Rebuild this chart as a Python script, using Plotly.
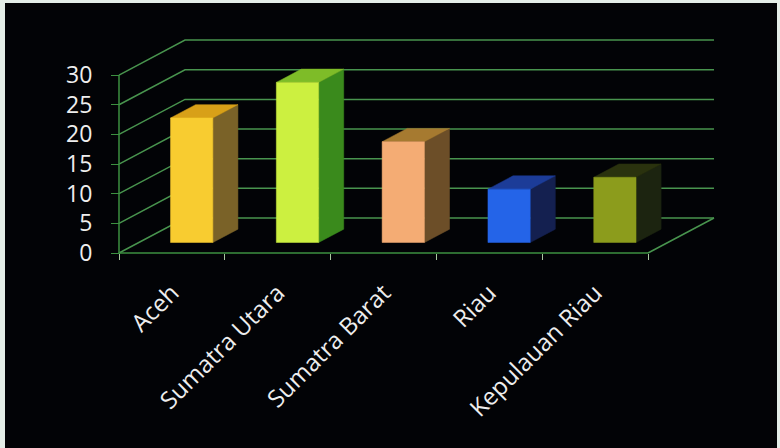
import plotly.graph_objects as go

# ---- data ----
categories = ["Aceh", "Sumatra Utara", "Sumatra Barat", "Riau", "Kepulauan Riau"]
values = [21, 27, 17, 9, 11]
y_ticks = [0, 5, 10, 15, 20, 25, 30]
front_colors = ["#F8CC30", "#CCF040", "#F4AC74", "#2464E8", "#8C9C1C"]
top_colors = ["#D8A018", "#7EBC28", "#A67A30", "#1C3C98", "#2A320E"]
side_colors = ["#7A6228", "#3A8A1C", "#6C4E28", "#142050", "#1C2410"]

# ---- geometry of the oblique projection (in axis units) ----
W, H = 780, 448
px_per_cat = 105.8
px_per_val = 5.93
x0_px, y0_px = 119, 253          # front-left-bottom corner of the floor
DX = 66 / px_per_cat             # full depth, horizontal shift (category units)
DY = 35 / px_per_val             # full depth, vertical shift (value units)
D0, D1 = 0.30, 0.68              # bar depth (front/back fraction)
HALF = 0.20                      # half bar width
YMAX = 30
n = len(categories)

xr = [-0.5 - x0_px / px_per_cat, -0.5 + (W - x0_px) / px_per_cat]
yr = [-(H - y0_px) / px_per_val, y0_px / px_per_val]

GRID = "#48944e"
AXIS = "#3c9040"

fig = go.Figure()

def P(u, w, d):
    return u + DX * d, w + DY * d

# back wall gridlines + side-wall diagonals
gx, gy = [], []
for v in y_ticks:
    a = P(-0.5, v, 0); b = P(-0.5, v, 1); c = P(n - 0.5, v, 1)
    gx += [a[0], b[0], c[0], None]; gy += [a[1], b[1], c[1], None]
# floor right edge
a = P(n - 0.5, 0, 0); b = P(n - 0.5, 0, 1)
gx += [a[0], b[0], None]; gy += [a[1], b[1], None]
fig.add_trace(go.Scatter(x=gx, y=gy, mode="lines", line=dict(color=GRID, width=1.5),
                         hoverinfo="skip", showlegend=False))

# front axes (vertical value axis and floor front edge)
fig.add_trace(go.Scatter(x=[-0.5, -0.5, None, -0.5, n - 0.5], y=[YMAX, 0, None, 0, 0],
                         mode="lines", line=dict(color=AXIS, width=1.5),
                         hoverinfo="skip", showlegend=False))

# bars
for i, v in enumerate(values):
    l, r = i - HALF, i + HALF
    flb = P(l, 0, D0); frb = P(r, 0, D0); frt = P(r, v, D0); flt = P(l, v, D0)
    blt = P(l, v, D1); brt = P(r, v, D1); brb = P(r, 0, D1)
    faces = [
        ([frb, brb, brt, frt], side_colors[i]),
        ([flt, frt, brt, blt], top_colors[i]),
        ([flb, frb, frt, flt], front_colors[i]),
    ]
    for pts, col in faces:
        xs = [p[0] for p in pts] + [pts[0][0]]
        ys = [p[1] for p in pts] + [pts[0][1]]
        fig.add_trace(go.Scatter(x=xs, y=ys, mode="lines", fill="toself", fillcolor=col,
                                 line=dict(color=col, width=0.5), hoverinfo="skip",
                                 showlegend=False))

fig.update_layout(
    width=W, height=H,
    margin=dict(l=0, r=0, t=0, b=0),
    paper_bgcolor="#e4eee8",
    plot_bgcolor="rgba(0,0,0,0)",
    showlegend=False,
    shapes=[dict(type="rect", xref="paper", yref="paper", x0=5 / W, x1=777 / W,
                 y0=0, y1=1 - 3 / H, fillcolor="#020306", line=dict(width=0), layer="below")],
    xaxis=dict(range=xr, domain=[0, 1], anchor="free", position=1 - y0_px / H,
               tickmode="array", tickvals=list(range(n)), ticktext=categories,
               ticks="", tickangle=-45, showgrid=False, zeroline=False, showline=False,
               ticklabelstandoff=20,
               tickfont=dict(family="Open Sans", size=24, color="#eeeeee"),
               minor=dict(tickmode="array", tickvals=[k - 0.5 for k in range(n + 1)],
                          ticks="outside", ticklen=6, tickwidth=1, tickcolor="#a8c8a0",
                          showgrid=False)),
    yaxis=dict(range=yr, domain=[0, 1], anchor="free", position=x0_px / W,
               tickmode="array", tickvals=y_ticks, ticks="outside", ticklen=8,
               tickwidth=1, tickcolor=AXIS, showgrid=False, zeroline=False,
               showline=False, ticklabelstandoff=14,
               tickfont=dict(family="Open Sans", size=23, color="#eeeeee")),
)

fig.write_html("out.html")
